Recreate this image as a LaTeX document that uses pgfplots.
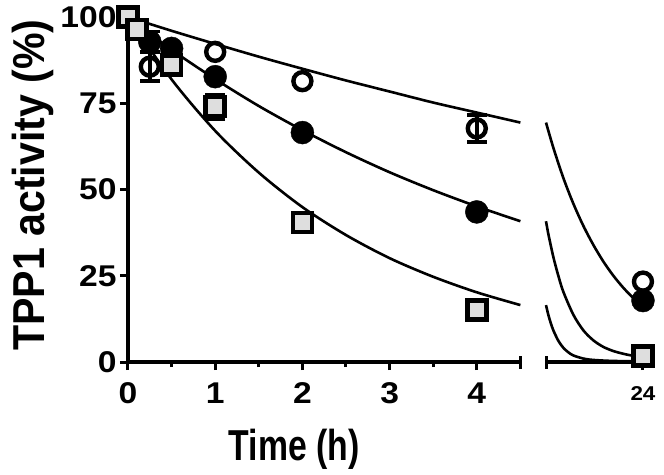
\documentclass[border=0pt]{standalone}
\usepackage{fontspec}
\setmainfont{Liberation Sans}
\newfontfamily\tickfam{Liberation Sans}[FakeStretch=1.12]
\newfontfamily\xlabfam{Liberation Sans}[FakeStretch=0.78]
\newfontfamily\ylabfam{Liberation Sans}[FakeStretch=0.92]
\usepackage{pgfplots}
\pgfplotsset{compat=1.18}
\definecolor{sqfill}{RGB}{222,222,222}
\pgfplotsset{
  base/.style={
    scale only axis, height=345pt, ymin=0, ymax=100, clip=false,
    axis line style={line width=3.5pt, black},
    tick style={line width=3pt, black},
    major tick length=8pt, minor tick length=5pt,
    tick align=outside,
    /pgf/number format/assume math mode=true,
    ticklabel style={font=\tickfam\bfseries\fontsize{30}{30}\selectfont},
    xticklabel style={yshift=-9pt},
  },
  fitline/.style={black, line width=2.6pt, smooth, no markers},
  opencirc/.style={only marks, mark=o, mark size=9pt, mark options={line width=4.4pt, black, fill=white}},
  filledcirc/.style={only marks, mark=*, mark size=11.5pt, mark options={draw=none, fill=black}},
  sq/.style={only marks, mark=square*, mark size=9.5pt, mark options={line width=4.6pt, draw=black, fill=sqfill}},
  errb/.style={error bars/.cd, y dir=both, y explicit,
    error bar style={line width=3.5pt, black},
    error mark options={rotate=90, mark size=10pt, line width=3.5pt, black}},
}
\begin{document}
\begin{tikzpicture}
\path[use as bounding box] (-128pt,-112pt) rectangle (536pt,362pt);
% ---------- left segment ----------
\begin{axis}[base,
  at={(0pt,0pt)}, anchor=south west,
  width=392.4pt, xmin=0, xmax=4.5,
  axis x line*=bottom, axis y line*=left,
  xtick={0,1,2,3,4}, minor xtick={0.5,1.5,2.5,3.5},
  ytick={0,25,50,75,100},
  extra x ticks={4.5}, extra x tick labels={},
  extra x tick style={tick align=center, major tick length=13pt},
]
\addplot[fitline] coordinates {(0,100)(0.5,96.0)(1,92.2)(1.5,88.5)(2,85.0)(2.5,81.6)(3,78.4)(3.5,75.2)(4,72.3)(4.5,69.4)};
\addplot[fitline] coordinates {(0,100)(0.5,90.5)(1,82.0)(1.5,74.2)(2,67.2)(2.5,60.8)(3,55.0)(3.5,49.8)(4,45.1)(4.5,40.8)};
\addplot[fitline] coordinates {(0,100)(0.5,81.9)(1,67.0)(1.5,54.9)(2,44.9)(2.5,36.8)(3,30.1)(3.5,24.7)(4,20.2)(4.5,16.5)};
% open circles
\addplot[opencirc, errb] coordinates {(0.25,85.6)+-(0,4.2) (4,67.7)+-(0,3.9)};
\addplot[opencirc] coordinates {(0,100) (1,89.9) (2,81.4)};
% filled circles
\addplot[filledcirc, errb] coordinates {(0.25,92.8)+-(0,3.0)};
\addplot[filledcirc] coordinates {(0,100) (0.5,90.9) (1,82.7) (2,66.5) (4,43.5)};
% squares
\addplot[sq, errb] coordinates {(1,74.0)+-(0,3.5)};
\addplot[sq] coordinates {(0,100) (0.1,96.4) (0.5,86.1) (2,40.4) (4,15.1)};
\node[rotate=90, anchor=base, font=\ylabfam\bfseries\fontsize{44.7}{44.7}\selectfont] at (axis cs:-0.952,51.3) {TPP1 activity (\%)};
\node[anchor=base, font=\xlabfam\bfseries\fontsize{43.3}{43.3}\selectfont] at (axis cs:1.904,-28.6) {Time (h)};
\end{axis}
% ---------- right segment ----------
\begin{axis}[base,
  at={(418pt,0pt)}, anchor=south west,
  width=109.4pt, xmin=4.5, xmax=26.5,
  axis x line*=bottom, axis y line=none, ytick=\empty,
  xtick={24},
  xticklabel style={font=\tickfam\bfseries\fontsize{20}{20}\selectfont, yshift=-4pt},
  extra x ticks={4.5}, extra x tick labels={},
  extra x tick style={tick align=center, major tick length=13pt},
]
\addplot[fitline] coordinates {(4.5,69.4)(6,62.0)(8,53.3)(10,45.9)(12,39.5)(14,34.0)(16,29.2)(18,25.1)(20,21.6)(22,18.6)(24,16.0)};
\addplot[fitline] coordinates {(4.5,40.8)(5,36.9)(6,30.3)(7,24.9)(8,20.3)(10,13.7)(12,9.2)(14,6.3)(16,4.4)(18,3.2)(20,2.4)(22,1.8)(24,1.4)};
\addplot[fitline] coordinates {(4.5,16.5)(5,13.5)(5.5,11.1)(6,9.1)(7,6.1)(8,4.1)(9,2.8)(10,1.9)(12,1.0)(14,0.6)(18,0.3)(24,0.2)};
\addplot[opencirc] coordinates {(24,23.3)};
\addplot[filledcirc] coordinates {(24,17.8)};
\addplot[sq] coordinates {(24,1.7)};
\end{axis}
\end{tikzpicture}
\end{document}
